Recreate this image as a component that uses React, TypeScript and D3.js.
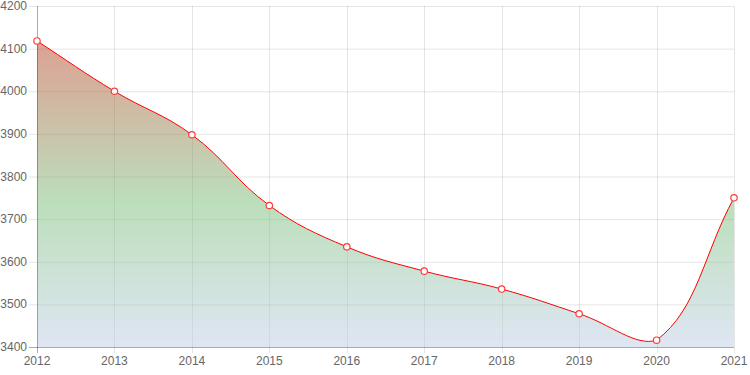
import React, { useEffect, useRef } from "react";
import * as d3 from "d3";

const years = [2012, 2013, 2014, 2015, 2016, 2017, 2018, 2019, 2020, 2021];
const values = [4118, 4000, 3898, 3732, 3635, 3578, 3536, 3478, 3416, 3750];
const yTicks = [3400, 3500, 3600, 3700, 3800, 3900, 4000, 4100, 4200];

const width = 750;
const height = 375;
const margin = { top: 6, right: 16, bottom: 28, left: 37 };

// chart.js style spline (tension 0.4), control points kept inside the chart area
function splinePath(pts: [number, number][], tension: number, area: { top: number; bottom: number; left: number; right: number }) {
  const p = d3.path();
  const clamp = (v: number, lo: number, hi: number) => Math.max(lo, Math.min(hi, v));
  const cps = pts.map((cur, i) => {
    const prev = pts[i - 1] || cur;
    const next = pts[i + 1] || cur;
    const d01 = Math.hypot(cur[0] - prev[0], cur[1] - prev[1]);
    const d12 = Math.hypot(next[0] - cur[0], next[1] - cur[1]);
    let s01 = d01 / (d01 + d12);
    let s12 = d12 / (d01 + d12);
    if (isNaN(s01)) s01 = 0;
    if (isNaN(s12)) s12 = 0;
    const fa = tension * s01;
    const fb = tension * s12;
    const pv = [cur[0] - fa * (next[0] - prev[0]), cur[1] - fa * (next[1] - prev[1])];
    const nx = [cur[0] + fb * (next[0] - prev[0]), cur[1] + fb * (next[1] - prev[1])];
    return {
      prev: [clamp(pv[0], area.left, area.right), clamp(pv[1], area.top, area.bottom)],
      next: [clamp(nx[0], area.left, area.right), clamp(nx[1], area.top, area.bottom)],
    };
  });
  pts.forEach((pt, i) => {
    if (i === 0) p.moveTo(pt[0], pt[1]);
    else {
      const a = cps[i - 1].next;
      const b = cps[i].prev;
      p.bezierCurveTo(a[0], a[1], b[0], b[1], pt[0], pt[1]);
    }
  });
  return p.toString();
}

export default function App() {
  const ref = useRef<SVGSVGElement>(null);

  useEffect(() => {
    const svg = d3.select(ref.current);
    svg.selectAll("*").remove();

    const x = d3.scaleLinear()
      .domain([years[0], years[years.length - 1]])
      .range([margin.left, width - margin.right]);
    const y = d3.scaleLinear()
      .domain([3400, 4200])
      .range([height - margin.bottom, margin.top]);

    const defs = svg.append("defs");
    const grad = defs.append("linearGradient")
      .attr("id", "fillGrad")
      .attr("gradientUnits", "userSpaceOnUse")
      .attr("x1", 0).attr("x2", 0)
      .attr("y1", y(4200)).attr("y2", y(3400));
    grad.append("stop").attr("offset", "0").attr("stop-color", "rgb(200,40,20)").attr("stop-opacity", 0.5);
    grad.append("stop").attr("offset", "0.58").attr("stop-color", "rgb(120,190,120)").attr("stop-opacity", 0.5);
    grad.append("stop").attr("offset", "1").attr("stop-color", "rgb(190,205,230)").attr("stop-opacity", 0.5);

    const font = "'Liberation Sans', Arial, sans-serif";

    // grid
    svg.append("g").selectAll("line")
      .data(yTicks)
      .enter().append("line")
      .attr("x1", margin.left - 8).attr("x2", width - margin.right)
      .attr("y1", d => y(d) + 0.5).attr("y2", d => y(d) + 0.5)
      .attr("stroke", "rgba(0,0,0,0.1)");
    svg.append("g").selectAll("line")
      .data(years)
      .enter().append("line")
      .attr("x1", d => Math.round(x(d)) + 0.5).attr("x2", d => Math.round(x(d)) + 0.5)
      .attr("y1", margin.top).attr("y2", height - margin.bottom + 6)
      .attr("stroke", "rgba(0,0,0,0.1)");

    const pts: [number, number][] = years.map((yr, i) => [x(yr), y(values[i])]);
    const area = { top: margin.top, bottom: height - margin.bottom, left: margin.left, right: width - margin.right };
    const linePath = splinePath(pts, 0.4, area);

    svg.append("path")
      .attr("d", linePath + `L${x(years[years.length - 1])},${y(3400)}L${x(years[0])},${y(3400)}Z`)
      .attr("fill", "url(#fillGrad)");

    // axes lines
    svg.append("line")
      .attr("x1", margin.left + 0.5).attr("x2", margin.left + 0.5)
      .attr("y1", margin.top).attr("y2", height - margin.bottom + 6)
      .attr("stroke", "rgba(0,0,0,0.25)");
    svg.append("line")
      .attr("x1", margin.left - 8).attr("x2", width - margin.right)
      .attr("y1", y(3400) + 0.5).attr("y2", y(3400) + 0.5)
      .attr("stroke", "rgba(0,0,0,0.25)");

    svg.append("path")
      .attr("d", linePath)
      .attr("fill", "none")
      .attr("stroke", "red")
      .attr("stroke-width", 1);

    svg.append("g").selectAll("circle")
      .data(pts)
      .enter().append("circle")
      .attr("cx", d => d[0]).attr("cy", d => d[1])
      .attr("r", 3.2)
      .attr("fill", "white")
      .attr("stroke", "#ff3b3b")
      .attr("stroke-width", 1.2);

    svg.append("g").selectAll("text")
      .data(yTicks)
      .enter().append("text")
      .attr("x", margin.left - 10)
      .attr("y", d => y(d) + 4)
      .attr("text-anchor", "end")
      .attr("font-family", font)
      .attr("font-size", 12)
      .attr("fill", "#666")
      .text(d => d);

    svg.append("g").selectAll("text")
      .data(years)
      .enter().append("text")
      .attr("x", d => x(d))
      .attr("y", height - margin.bottom + 18)
      .attr("text-anchor", "middle")
      .attr("font-family", font)
      .attr("font-size", 12)
      .attr("fill", "#666")
      .text(d => d);
  }, []);

  return (
    <svg ref={ref} width={width} height={height}
      style={{ position: "absolute", left: 0, top: 0, display: "block" }} />
  );
}
